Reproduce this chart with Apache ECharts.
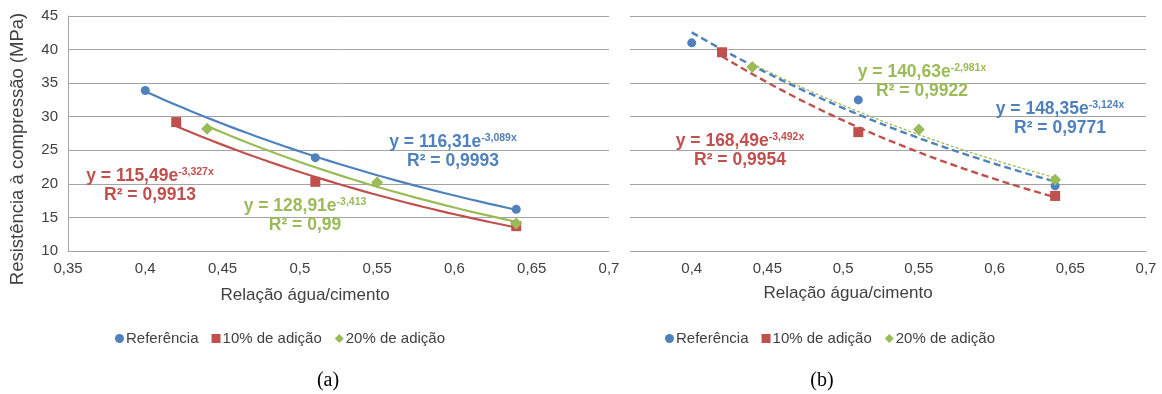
<!DOCTYPE html>
<html><head><meta charset="utf-8">
<script src="https://cdn.jsdelivr.net/npm/echarts@6/dist/echarts.min.js"></script>
<style>html,body{margin:0;padding:0;background:#fff}#c{width:1162px;height:394px}</style>
</head><body><div id="c"></div>
<script>
// ---- data ----
const seriesNames = ['Referência', '10% de adição', '20% de adição'];
const xRef = [0.40, 0.51, 0.64];
const x10  = [0.42, 0.51, 0.64];
const x20  = [0.44, 0.55, 0.64];
// chart (a)
const aRef = [33.9, 23.9, 16.2];
const a10  = [29.2, 20.3, 13.7];
const a20  = [28.2, 20.2, 14.1];
// chart (b)
const bRef = [41.0, 32.5, 19.7];
const b10  = [39.6, 27.7, 18.2];
const b20  = [37.4, 28.1, 20.6];
// axis ranges
const xMin = 0.35, xMax = 0.7, xStep = 0.05;
const yMin = 10, yMax = 45, yStep = 5;
// equation labels [coef, exponent, R2]
const eqARef = ['116,31', '-3,089x', '0,9993'];
const eqA10  = ['115,49', '-3,327x', '0,9913'];
const eqA20  = ['128,91', '-3,413', '0,99'];
const eqBRef = ['148,35', '-3,124x', '0,9771'];
const eqB10  = ['168,49', '-3,492x', '0,9954'];
const eqB20  = ['140,63', '-2,981x', '0,9922'];
const captions = ['(a)', '(b)'];
const xTitle = 'Relação água/cimento';
const yTitle = 'Resistência à compressão (MPa)';

// ---- styles ----
const C = ['#4F81BD', '#C0504D', '#9BBB59'];
const FONT = 'Liberation Sans, Arial, sans-serif';
const GRID = '#a3a3a3';

// exponential least-squares fit (as a spreadsheet trendline does)
function expFit(xs, ys) {
  const n = xs.length;
  const ly = ys.map(v => Math.log(v));
  const mx = xs.reduce((s, v) => s + v, 0) / n;
  const my = ly.reduce((s, v) => s + v, 0) / n;
  let sxy = 0, sxx = 0;
  for (let i = 0; i < n; i++) { sxy += (xs[i] - mx) * (ly[i] - my); sxx += (xs[i] - mx) ** 2; }
  const b = sxy / sxx;
  return { a: Math.exp(my - b * mx), b };
}
function trend(xs, ys) {
  const f = expFit(xs, ys);
  const x0 = xs[0], x1 = xs[xs.length - 1], pts = [];
  for (let i = 0; i <= 40; i++) { const x = x0 + (x1 - x0) * i / 40; pts.push([x, f.a * Math.exp(f.b * x)]); }
  return pts;
}
const zip = (xs, ys) => xs.map((x, i) => [x, ys[i]]);
const fmtX = v => String(+v.toFixed(2)).replace('.', ',');

const symbols = ['circle', 'rect', 'diamond'];
const symSizes = [9, 10, 12];

function scatter(name, xs, ys, k, gi) {
  return { name, type: 'scatter', xAxisIndex: gi, yAxisIndex: gi, data: zip(xs, ys),
    symbol: symbols[k], symbolSize: symSizes[k], itemStyle: { color: C[k], opacity: 1 }, z: 5, silent: true };
}
function tline(id, xs, ys, k, gi, ls) {
  return { name: id, type: 'line', xAxisIndex: gi, yAxisIndex: gi, data: trend(xs, ys),
    showSymbol: false, symbol: 'none', smooth: false, lineStyle: Object.assign({ color: C[k] }, ls), z: 3, silent: true };
}

function eqText(eq, k, cx, cy) {
  return { type: 'text', x: cx, y: cy, z: 50,
    style: { text: '{m|y = ' + eq[0] + 'e}{s|' + eq[1] + '}\n{m|R² = ' + eq[2] + '}',
      align: 'center', verticalAlign: 'middle',
      rich: {
        m: { fontFamily: FONT, fontSize: 17.5, fontWeight: 'bold', fill: C[k], lineHeight: 19 },
        s: { fontFamily: FONT, fontSize: 10.5, fontWeight: 'bold', fill: C[k], verticalAlign: 'top', lineHeight: 19 }
      } } };
}

const xAxisCommon = {
  type: 'value', min: xMin, max: xMax, interval: xStep,
  axisTick: { show: false }, splitLine: { show: false },
  axisLabel: { formatter: fmtX, color: '#404040', fontFamily: FONT, fontSize: 15, margin: 10 }
};

const legendCommon = {
  top: 326, itemWidth: 9, itemHeight: 9, itemGap: 13, selectedMode: false,
  textStyle: { fontFamily: FONT, fontSize: 15, color: '#404040', padding: [0, 0, 0, -3] },
  data: seriesNames.map((n, k) => ({ name: n, icon: symbols[k] }))
};

const option = {
  animation: false,
  backgroundColor: '#fff',
  grid: [
    { left: 68, top: 16, width: 541, height: 235 },
    { left: 616, top: 16, width: 530, height: 235 }
  ],
  xAxis: [
    Object.assign({}, xAxisCommon, { gridIndex: 0, axisLine: { show: true, lineStyle: { color: GRID, width: 1 } } }),
    Object.assign({}, xAxisCommon, { gridIndex: 1, axisLine: { show: true, lineStyle: { color: GRID, width: 1 } },
      axisLabel: Object.assign({}, xAxisCommon.axisLabel, { showMinLabel: false }) })
  ],
  yAxis: [
    { gridIndex: 0, type: 'value', min: yMin, max: yMax, interval: yStep,
      axisLine: { show: true, lineStyle: { color: GRID } }, axisTick: { show: false },
      splitLine: { lineStyle: { color: GRID, width: 1 } },
      axisLabel: { color: '#404040', fontFamily: FONT, fontSize: 15, margin: 10 } },
    { gridIndex: 1, type: 'value', min: yMin, max: yMax, interval: yStep,
      axisLine: { show: false }, axisTick: { show: false }, axisLabel: { show: false },
      splitLine: { lineStyle: { color: GRID, width: 1 } } }
  ],
  legend: [
    Object.assign({}, legendCommon, { left: 110 }),
    Object.assign({}, legendCommon, { left: 660 })
  ],
  series: [
    tline('tA0', xRef, aRef, 0, 0, { width: 2.2 }),
    tline('tA1', x10, a10, 1, 0, { width: 2.2 }),
    tline('tA2', x20, a20, 2, 0, { width: 2.2 }),
    scatter(seriesNames[0], xRef, aRef, 0, 0),
    scatter(seriesNames[1], x10, a10, 1, 0),
    scatter(seriesNames[2], x20, a20, 2, 0),
    tline('tB0', xRef, bRef, 0, 1, { width: 2.4, type: [7, 4] }),
    tline('tB1', x10, b10, 1, 1, { width: 2.4, type: [7, 4] }),
    tline('tB2', x20, b20, 2, 1, { width: 1.3, type: [3, 2] }),
    scatter(seriesNames[0], xRef, bRef, 0, 1),
    scatter(seriesNames[1], x10, b10, 1, 1),
    scatter(seriesNames[2], x20, b20, 2, 1)
  ],
  graphic: [
    { type: 'rect', shape: { x: 612, y: 8, width: 18, height: 250 }, style: { fill: '#fff' }, z: 40, silent: true },
    { type: 'text', x: 18, y: 149, rotation: Math.PI / 2, z: 50,
      style: { text: yTitle, fontFamily: FONT, fontSize: 18.5, fill: '#404040', align: 'center', verticalAlign: 'middle' } },
    { type: 'text', x: 305, y: 295, z: 50,
      style: { text: xTitle, fontFamily: FONT, fontSize: 17, fill: '#404040', align: 'center', verticalAlign: 'middle' } },
    { type: 'text', x: 848, y: 293, z: 50,
      style: { text: xTitle, fontFamily: FONT, fontSize: 17, fill: '#404040', align: 'center', verticalAlign: 'middle' } },
    { type: 'text', x: 328, y: 381, z: 50,
      style: { text: captions[0], fontFamily: 'Liberation Serif, DejaVu Serif, serif', fontSize: 20, fill: '#000', align: 'center', verticalAlign: 'middle' } },
    { type: 'text', x: 822, y: 381, z: 50,
      style: { text: captions[1], fontFamily: 'Liberation Serif, DejaVu Serif, serif', fontSize: 20, fill: '#000', align: 'center', verticalAlign: 'middle' } },
    eqText(eqARef, 0, 453, 152),
    eqText(eqA10, 1, 150, 186),
    eqText(eqA20, 2, 305, 216),
    eqText(eqB20, 2, 922, 82),
    eqText(eqBRef, 0, 1060, 119),
    eqText(eqB10, 1, 740, 151)
  ]
};
const chart = echarts.init(document.getElementById('c'), null, { renderer: 'canvas' });
chart.setOption(option);
</script></body></html>
